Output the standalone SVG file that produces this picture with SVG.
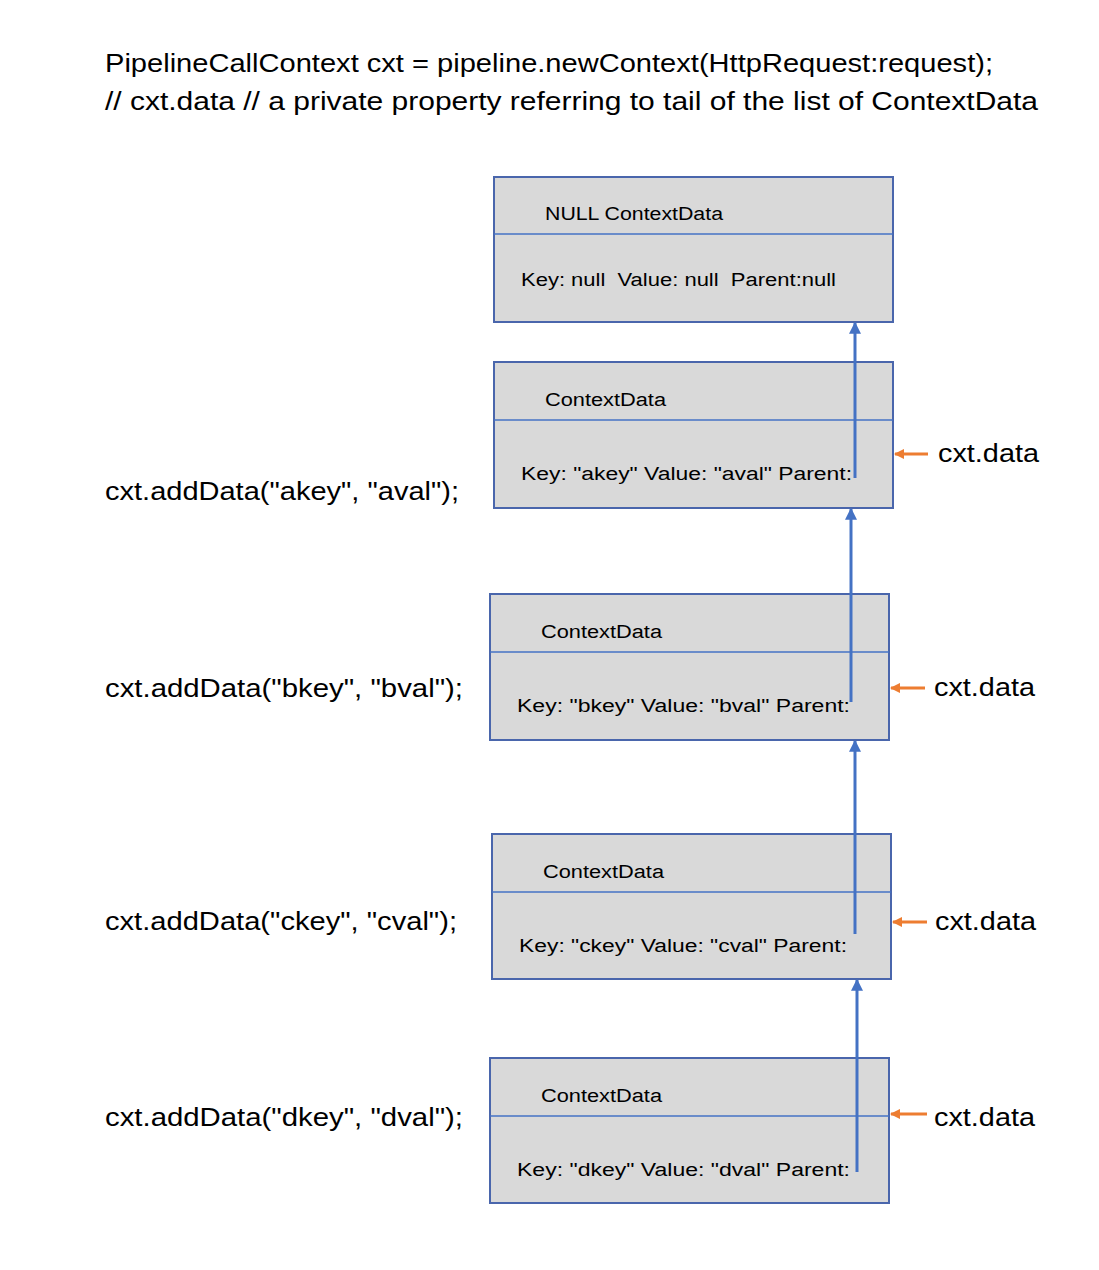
<svg xmlns="http://www.w3.org/2000/svg" width="1099" height="1270" viewBox="0 0 1099 1270">
<style>
text{font-family:"Liberation Sans","Open Sans",sans-serif;fill:#000;white-space:pre}
.big{font-size:25px}
.sm{font-size:18px}
.box{fill:#d9d9d9;stroke:#4a66ac;stroke-width:2}
.div{stroke:#4472c4;stroke-width:1.5}
.blue{stroke:#4472c4;stroke-width:3;fill:none}
.org{stroke:#ed7d31;stroke-width:3;fill:none}
</style>
<defs>
<marker id="ab" viewBox="0 0 10 10" refX="9" refY="5" markerWidth="4.3" markerHeight="4" orient="auto" markerUnits="strokeWidth"><path d="M0,0 L10,5 L0,10 z" fill="#4472c4"/></marker>
<marker id="ao" viewBox="0 0 10 10" refX="9" refY="5" markerWidth="3.5" markerHeight="3.5" orient="auto" markerUnits="strokeWidth"><path d="M0,0 L10,5 L0,10 z" fill="#ed7d31"/></marker>
</defs>
<rect width="1099" height="1270" fill="#fff"/>
<g id="header">
<text class="big" x="105" y="72" textLength="888" lengthAdjust="spacingAndGlyphs">PipelineCallContext cxt = pipeline.newContext(HttpRequest:request);</text>
<text class="big" x="105" y="110" textLength="933" lengthAdjust="spacingAndGlyphs">// cxt.data // a private property referring to tail of the list of ContextData</text>
</g>
<g id="node-null">
<rect class="box" x="494" y="177" width="399" height="145"/>
<line class="div" x1="494" y1="234" x2="893" y2="234"/>
<text class="sm" x="545" y="220" textLength="178" lengthAdjust="spacingAndGlyphs">NULL ContextData</text>
<text class="sm" x="521" y="286" textLength="315" lengthAdjust="spacingAndGlyphs">Key: null  Value: null  Parent:null</text>
</g>
<g id="node-a">
<rect class="box" x="494" y="362" width="399" height="146"/>
<line class="div" x1="494" y1="420" x2="893" y2="420"/>
<text class="sm" x="545" y="406" textLength="121" lengthAdjust="spacingAndGlyphs">ContextData</text>
<text class="sm" x="521" y="480" textLength="331" lengthAdjust="spacingAndGlyphs">Key: "akey" Value: "aval" Parent:</text>
</g>
<g id="node-b">
<rect class="box" x="490" y="594" width="399" height="146"/>
<line class="div" x1="490" y1="652" x2="889" y2="652"/>
<text class="sm" x="541" y="638" textLength="121" lengthAdjust="spacingAndGlyphs">ContextData</text>
<text class="sm" x="517" y="712" textLength="333" lengthAdjust="spacingAndGlyphs">Key: "bkey" Value: "bval" Parent:</text>
</g>
<g id="node-c">
<rect class="box" x="492" y="834" width="399" height="145"/>
<line class="div" x1="492" y1="892" x2="891" y2="892"/>
<text class="sm" x="543" y="878" textLength="121" lengthAdjust="spacingAndGlyphs">ContextData</text>
<text class="sm" x="519" y="952" textLength="328" lengthAdjust="spacingAndGlyphs">Key: "ckey" Value: "cval" Parent:</text>
</g>
<g id="node-d">
<rect class="box" x="490" y="1058" width="399" height="145"/>
<line class="div" x1="490" y1="1116" x2="889" y2="1116"/>
<text class="sm" x="541" y="1102" textLength="121" lengthAdjust="spacingAndGlyphs">ContextData</text>
<text class="sm" x="517" y="1176" textLength="333" lengthAdjust="spacingAndGlyphs">Key: "dkey" Value: "dval" Parent:</text>
</g>
<g id="labels">
<text class="big" x="105" y="500" textLength="354" lengthAdjust="spacingAndGlyphs">cxt.addData("akey", "aval");</text>
<text class="big" x="105" y="697" textLength="358" lengthAdjust="spacingAndGlyphs">cxt.addData("bkey", "bval");</text>
<text class="big" x="105" y="930" textLength="352" lengthAdjust="spacingAndGlyphs">cxt.addData("ckey", "cval");</text>
<text class="big" x="105" y="1126" textLength="358" lengthAdjust="spacingAndGlyphs">cxt.addData("dkey", "dval");</text>
<text class="big" x="938" y="462" textLength="101" lengthAdjust="spacingAndGlyphs">cxt.data</text>
<text class="big" x="934" y="696" textLength="101" lengthAdjust="spacingAndGlyphs">cxt.data</text>
<text class="big" x="935" y="930" textLength="101" lengthAdjust="spacingAndGlyphs">cxt.data</text>
<text class="big" x="934" y="1126" textLength="101" lengthAdjust="spacingAndGlyphs">cxt.data</text>
</g>
<g id="connectors">
<line class="blue" x1="855" y1="478" x2="855" y2="323" marker-end="url(#ab)"/>
<line class="blue" x1="851" y1="702" x2="851" y2="509" marker-end="url(#ab)"/>
<line class="blue" x1="855" y1="934" x2="855" y2="741" marker-end="url(#ab)"/>
<line class="blue" x1="857" y1="1172" x2="857" y2="980" marker-end="url(#ab)"/>
<line class="org" x1="928" y1="454" x2="895" y2="454" marker-end="url(#ao)"/>
<line class="org" x1="925" y1="688" x2="891" y2="688" marker-end="url(#ao)"/>
<line class="org" x1="927" y1="922" x2="893" y2="922" marker-end="url(#ao)"/>
<line class="org" x1="927" y1="1114" x2="891" y2="1114" marker-end="url(#ao)"/>
</g>
</svg>
